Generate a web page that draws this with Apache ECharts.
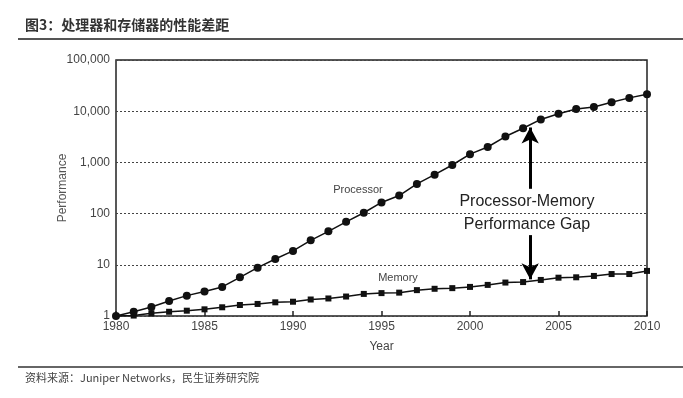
<!DOCTYPE html>
<html>
<head>
<meta charset="utf-8">
<script src="https://cdn.jsdelivr.net/npm/echarts@6/dist/echarts.min.js"></script>
<style>
  html, body { margin: 0; padding: 0; background: #fff; }
  #chart { width: 683px; height: 398px; }
</style>
</head>
<body>
<div id="chart"></div>
<script>
// years 1980..2010
var years = [1980, 1981, 1982, 1983, 1984, 1985, 1986, 1987, 1988, 1989, 1990,
  1991, 1992, 1993, 1994, 1995, 1996, 1997, 1998, 1999, 2000,
  2001, 2002, 2003, 2004, 2005, 2006, 2007, 2008, 2009, 2010];
var processor = [1, 1.21, 1.5, 1.96, 2.5, 3.0, 3.7, 5.7, 8.8, 13, 18.7,
  30, 45, 69, 104, 165, 225, 380, 575, 890, 1450,
  2000, 3200, 4650, 6900, 8900, 11000, 12100, 14900, 18200, 21400];
var memory = [1, 1.02, 1.13, 1.21, 1.27, 1.35, 1.48, 1.64, 1.72, 1.85, 1.9,
  2.1, 2.2, 2.4, 2.7, 2.8, 2.86, 3.2, 3.4, 3.5, 3.7,
  4.05, 4.5, 4.6, 5.06, 5.6, 5.7, 6.06, 6.6, 6.6, 7.6];
var gapYear = 2003.4;
var upArrow = [305, 4800];
var downArrow = [38, 5.2];

var font = 'Liberation Sans, Arial, sans-serif';
var cjk = 'Noto Sans CJK SC, sans-serif';

function pairs(vals) {
  return years.map(function (y, i) { return [y, vals[i]]; });
}

var myChart = echarts.init(document.getElementById('chart'));
var option = {
  animation: false,
  grid: {
    left: 116, right: 36, top: 60, bottom: 82,
    show: true, borderColor: '#222', borderWidth: 1.5, backgroundColor: 'transparent'
  },
  xAxis: {
    type: 'value', min: 1980, max: 2010, interval: 5,
    name: 'Year', nameLocation: 'middle', nameGap: 25,
    nameTextStyle: { fontFamily: font, fontSize: 12, color: '#444' },
    axisLine: { show: false },
    axisTick: { show: true, inside: true, length: 5, lineStyle: { color: '#222', width: 1.5 } },
    axisLabel: { fontFamily: font, fontSize: 12, color: '#444', margin: 5,
      formatter: function (v) { return String(v); } },
    splitLine: { show: false }
  },
  yAxis: {
    type: 'log', logBase: 10, min: 1, max: 100000,
    name: 'Performance', nameLocation: 'middle', nameGap: 47, nameRotate: 90,
    nameMoveOverlap: false,
    nameTextStyle: { fontFamily: font, fontSize: 12, color: '#555' },
    axisLine: { show: false },
    axisTick: { show: false },
    axisLabel: {
      fontFamily: font, fontSize: 12, color: '#444', margin: 6,
      formatter: function (v) { return Math.round(v).toLocaleString('en-US'); }
    },
    splitLine: { show: true, lineStyle: { color: '#444', type: [2, 2], width: 1 } }
  },
  series: [
    {
      name: 'Processor', type: 'line', data: pairs(processor),
      symbol: 'circle', symbolSize: 8,
      lineStyle: { color: '#111', width: 1.5 },
      itemStyle: { color: '#111' },
      markLine: {
        silent: true,
        symbol: ['none', 'arrow'],
        symbolSize: [13, 16],
        lineStyle: { color: '#000', width: 3, type: 'solid' },
        label: { show: false },
        data: [
          [{ coord: [gapYear, upArrow[0]] }, { coord: [gapYear, upArrow[1]] }],
          [{ coord: [gapYear, downArrow[0]] }, { coord: [gapYear, downArrow[1]] }]
        ]
      },
      z: 3
    },
    {
      name: 'Memory', type: 'line', data: pairs(memory),
      symbol: 'rect', symbolSize: 6,
      lineStyle: { color: '#111', width: 1.5 },
      itemStyle: { color: '#111' },
      z: 2
    }
  ],
  graphic: [
    { type: 'text', left: 25, top: 18,
      style: { text: '图3：处理器和存储器的性能差距', font: 'bold 14px ' + cjk, fill: '#333' } },
    { type: 'rect', shape: { x: 18, y: 38, width: 665, height: 2 }, style: { fill: '#555' } },
    { type: 'rect', shape: { x: 18, y: 366, width: 665, height: 2 }, style: { fill: '#666' } },
    { type: 'text', left: 25, top: 372,
      style: { text: '资料来源：Juniper Networks，民生证券研究院', font: '11px ' + cjk, fill: '#444' } },
    { type: 'text', x: 358, y: 190,
      style: { text: 'Processor', font: '11px ' + font, fill: '#444', align: 'center', verticalAlign: 'middle' } },
    { type: 'text', x: 398, y: 278,
      style: { text: 'Memory', font: '11px ' + font, fill: '#444', align: 'center', verticalAlign: 'middle' } },
    { type: 'text', x: 527, y: 202,
      style: { text: 'Processor-Memory', font: '16px ' + font, fill: '#222', align: 'center', verticalAlign: 'middle' } },
    { type: 'text', x: 527, y: 225,
      style: { text: 'Performance Gap', font: '16px ' + font, fill: '#222', align: 'center', verticalAlign: 'middle' } }
  ]
};
myChart.setOption(option);
</script>
</body>
</html>
